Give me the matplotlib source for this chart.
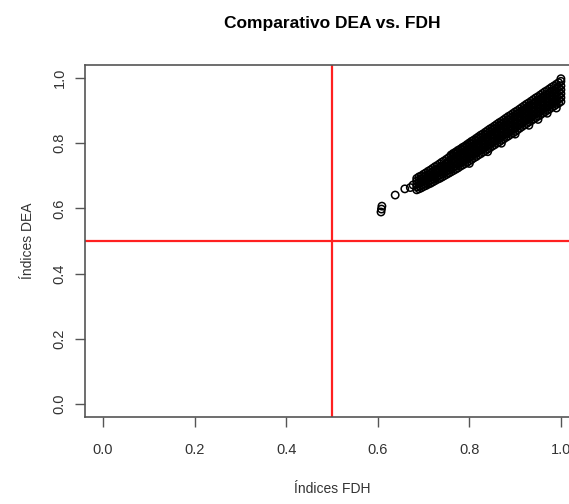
import numpy as np
import matplotlib.pyplot as plt

# puntos sueltos del extremo inferior
fdh_sueltos = [0.607, 0.608, 0.609, 0.638, 0.659, 0.671, 0.677]
dea_sueltos = [0.589, 0.598, 0.607, 0.641, 0.660, 0.664, 0.672]

# banda densa: para cada indice FDH, los indices DEA
fdh_cols = [0.685, 0.690, 0.695, 0.700, 0.705, 0.710, 0.715, 0.720, 0.725, 0.730,
            0.735, 0.740, 0.745, 0.750, 0.755, 0.760, 0.765, 0.770, 0.775, 0.780,
            0.785, 0.790, 0.795, 0.800, 0.805, 0.810, 0.815, 0.820, 0.825, 0.830,
            0.835, 0.840, 0.845, 0.850, 0.855, 0.860, 0.865, 0.870, 0.875, 0.880,
            0.885, 0.890, 0.895, 0.900, 0.905, 0.910, 0.915, 0.920, 0.925, 0.930,
            0.935, 0.940, 0.945, 0.950, 0.955, 0.960, 0.965, 0.970, 0.975, 0.980,
            0.985, 0.990, 0.995, 1.000]
dea_cols = [
    [0.657, 0.666, 0.675, 0.684, 0.692],
    [0.660, 0.669, 0.678, 0.687, 0.697],
    [0.663, 0.672, 0.681, 0.690, 0.700],
    [0.667, 0.676, 0.685, 0.695, 0.705],
    [0.670, 0.679, 0.689, 0.699, 0.709],
    [0.674, 0.683, 0.693, 0.703, 0.714],
    [0.677, 0.687, 0.697, 0.707, 0.718],
    [0.681, 0.691, 0.701, 0.712, 0.723],
    [0.685, 0.695, 0.705, 0.716, 0.728],
    [0.689, 0.699, 0.709, 0.720, 0.732],
    [0.692, 0.703, 0.713, 0.724, 0.737],
    [0.696, 0.707, 0.717, 0.729, 0.742],
    [0.700, 0.711, 0.722, 0.733, 0.746],
    [0.704, 0.715, 0.726, 0.738, 0.751],
    [0.708, 0.719, 0.730, 0.742, 0.756],
    [0.712, 0.723, 0.734, 0.746, 0.759, 0.764],
    [0.716, 0.727, 0.739, 0.751, 0.763, 0.769],
    [0.720, 0.731, 0.743, 0.755, 0.767, 0.773],
    [0.724, 0.736, 0.748, 0.760, 0.772, 0.778],
    [0.729, 0.740, 0.752, 0.764, 0.776, 0.782],
    [0.733, 0.745, 0.757, 0.769, 0.781, 0.787],
    [0.737, 0.749, 0.761, 0.773, 0.785, 0.791],
    [0.741, 0.753, 0.765, 0.778, 0.790, 0.796],
    [0.746, 0.758, 0.770, 0.782, 0.794, 0.801],
    [0.750, 0.762, 0.774, 0.787, 0.799, 0.806],
    [0.755, 0.767, 0.779, 0.791, 0.803, 0.810],
    [0.759, 0.771, 0.783, 0.796, 0.808, 0.815],
    [0.764, 0.776, 0.788, 0.800, 0.812, 0.820],
    [0.768, 0.780, 0.792, 0.805, 0.817, 0.825],
    [0.773, 0.785, 0.797, 0.809, 0.821, 0.829],
    [0.777, 0.789, 0.801, 0.814, 0.826, 0.834],
    [0.782, 0.794, 0.806, 0.818, 0.830, 0.839],
    [0.786, 0.798, 0.810, 0.823, 0.835, 0.844],
    [0.791, 0.803, 0.815, 0.827, 0.840, 0.848],
    [0.795, 0.807, 0.819, 0.832, 0.844, 0.853],
    [0.800, 0.812, 0.824, 0.836, 0.849, 0.858],
    [0.804, 0.816, 0.828, 0.841, 0.853, 0.863],
    [0.809, 0.821, 0.833, 0.845, 0.858, 0.867],
    [0.813, 0.825, 0.837, 0.850, 0.862, 0.872],
    [0.818, 0.830, 0.842, 0.854, 0.867, 0.877],
    [0.822, 0.834, 0.847, 0.859, 0.871, 0.882],
    [0.827, 0.839, 0.851, 0.864, 0.876, 0.886],
    [0.831, 0.843, 0.856, 0.868, 0.881, 0.891],
    [0.836, 0.848, 0.860, 0.873, 0.885, 0.896],
    [0.841, 0.853, 0.865, 0.878, 0.890, 0.900],
    [0.846, 0.858, 0.870, 0.882, 0.894, 0.905],
    [0.851, 0.863, 0.875, 0.887, 0.899, 0.910],
    [0.856, 0.868, 0.879, 0.891, 0.903, 0.915],
    [0.860, 0.872, 0.884, 0.896, 0.908, 0.920],
    [0.865, 0.877, 0.889, 0.901, 0.913, 0.924],
    [0.869, 0.881, 0.893, 0.905, 0.917, 0.929],
    [0.874, 0.886, 0.898, 0.910, 0.922, 0.934],
    [0.878, 0.890, 0.902, 0.915, 0.927, 0.939],
    [0.883, 0.895, 0.907, 0.919, 0.931, 0.943],
    [0.887, 0.899, 0.911, 0.924, 0.936, 0.948],
    [0.892, 0.904, 0.916, 0.928, 0.940, 0.953],
    [0.896, 0.908, 0.920, 0.933, 0.945, 0.958],
    [0.901, 0.913, 0.925, 0.937, 0.949, 0.962],
    [0.905, 0.917, 0.929, 0.942, 0.954, 0.967],
    [0.910, 0.922, 0.934, 0.946, 0.958, 0.972],
    [0.914, 0.926, 0.938, 0.951, 0.963, 0.976],
    [0.919, 0.931, 0.943, 0.955, 0.967, 0.981],
    [0.923, 0.935, 0.947, 0.960, 0.972, 0.986],
    [0.928, 0.940, 0.952, 0.964, 0.976, 0.990, 0.998],
]

# algunos puntos dispersos bajo la banda
fdh_disp = [0.80, 0.84, 0.87, 0.90, 0.93, 0.95, 0.97, 0.99]
dea_disp = [0.738, 0.774, 0.800, 0.828, 0.855, 0.873, 0.892, 0.908]

fdh = list(fdh_sueltos) + list(fdh_disp)
dea = list(dea_sueltos) + list(dea_disp)
for xv, ys in zip(fdh_cols, dea_cols):
    for yv in ys:
        fdh.append(xv)
        dea.append(yv)

plt.rcParams['font.family'] = ['Liberation Sans', 'DejaVu Sans']

fig = plt.figure(figsize=(5.69, 5.04), dpi=100)
ax = fig.add_axes([0.149, 0.1726, 0.869, 0.6984])

ax.scatter(fdh, dea, s=28, facecolors='none', edgecolors='black', linewidths=1.1, zorder=3)
ax.axvline(0.5, color='#ff2020', lw=1.6, zorder=2)
ax.axhline(0.5, color='#ff2020', lw=1.6, zorder=2)

ax.set_xlim(-0.04, 1.04)
ax.set_ylim(-0.04, 1.04)
ticks = [0.0, 0.2, 0.4, 0.6, 0.8, 1.0]
ax.set_xticks(ticks)
ax.set_yticks(ticks)
ax.set_xticklabels(['0.0', '0.2', '0.4', '0.6', '0.8', '1.0'])
ax.set_yticklabels(['0.0', '0.2', '0.4', '0.6', '0.8', '1.0'], rotation=90, va='center')
ax.tick_params(colors='#555555', labelcolor='#333333', labelsize=10.5, length=7, width=1)
ax.tick_params(axis='x', pad=12)
ax.tick_params(axis='y', pad=6)
for sp in ax.spines.values():
    sp.set_color('#555555')
    sp.set_linewidth(1.2)

ax.set_xlabel('Índices FDH', fontsize=10, color='#333333', labelpad=18)
ax.set_ylabel('Índices DEA', fontsize=10, color='#333333', labelpad=13)
ax.set_title('Comparativo DEA vs. FDH', fontsize=12.5, fontweight='bold', pad=27)

fig.savefig('out.png', dpi=100)
